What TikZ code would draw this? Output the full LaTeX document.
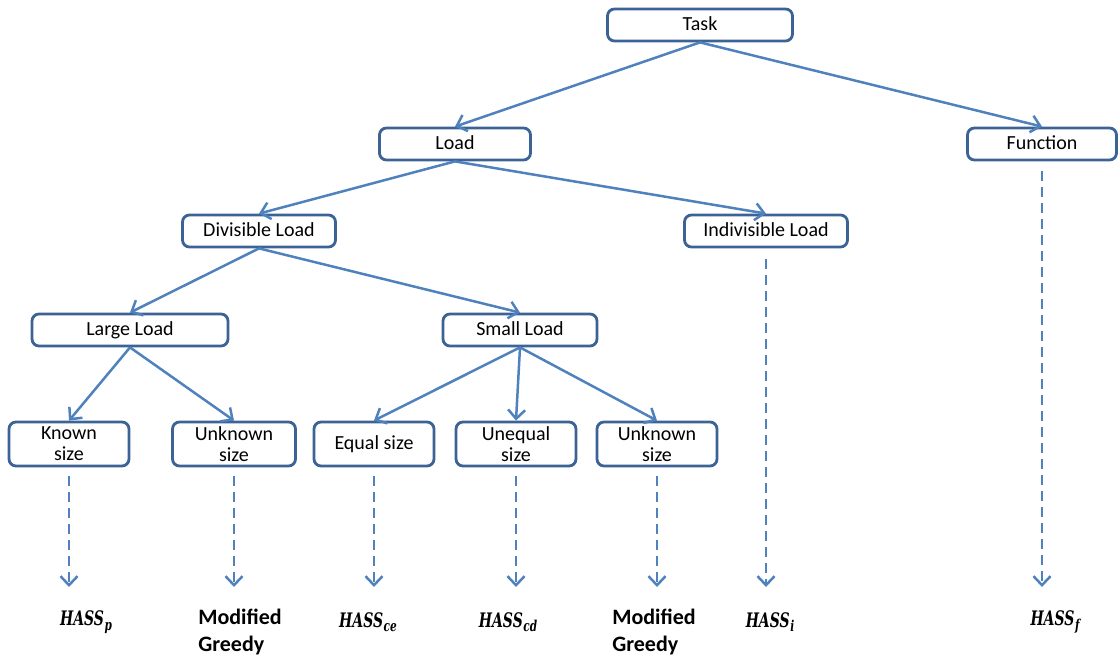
\documentclass[tikz,border=0pt]{standalone}
\usepackage{fontspec}
\setmainfont{Carlito}
\newfontfamily\hassfont[FakeStretch=0.7]{DejaVu Serif}
\usetikzlibrary{arrows.meta}
\definecolor{boxline}{HTML}{3B6396}
\definecolor{arrowblue}{HTML}{4F81BD}
\newcommand{\hass}[1]{{\hassfont\bfseries\itshape HASS\kern0.5pt\raisebox{-4.5pt}{\fontsize{15}{15}\selectfont #1}}}
\begin{document}
\begin{tikzpicture}[x=1pt,y=-1pt,
  basebox/.style={draw=boxline, line width=2.8pt, rounded corners=7pt, fill=white,
    font=\fontsize{20}{21}\selectfont, inner sep=0pt, align=center},
  oneline/.style={text height=14pt, text depth=3pt},
  box/.style={basebox, oneline, minimum height=32pt},
  tallbox/.style={basebox, minimum height=44pt, minimum width=120pt},
  link/.style={draw=arrowblue, line width=2.5pt,
    -{Straight Barb[length=9pt,width=17pt,line width=2.5pt]}},
  dlink/.style={link, dash pattern=on 10pt off 6pt},
  result/.style={font=\fontsize{20}{24}\selectfont, inner sep=0pt},
  greedy/.style={font=\fontsize{22}{27}\selectfont\bfseries, align=left, inner sep=0pt}
]
\useasboundingbox (0,0) rectangle (1118,660);

% tree of boxes
\node[box, minimum width=185pt] (task) at (700,25) {Task};
\node[box, minimum width=151pt] (load) at (455,144) {Load};
\node[box, minimum width=149pt] (func) at (1042,144) {Function};
\node[box, minimum width=153pt] (div) at (259,231) {Divisible Load};
\node[box, minimum width=163pt] (indiv) at (766,231) {Indivisible Load};
\node[box, minimum width=196pt] (large) at (130,330) {Large Load};
\node[box, minimum width=154pt] (small) at (520,330) {Small Load};
\node[tallbox] (known) at (69,444) {Known\\size};
\node[tallbox, minimum width=123pt] (unk1) at (234,444) {Unknown\\size};
\node[tallbox, oneline] (equal) at (374,444) {Equal size};
\node[tallbox] (unequal) at (516,444) {Unequal\\size};
\node[tallbox] (unk2) at (657,444) {Unknown\\size};

% results
\node[result] (rp) at (86,622) {\hass{p}};
\node[greedy] (mg1) at (240,632) {Modified\\Greedy};
\node[result] (rce) at (368,622) {\hass{ce}};
\node[result] (rcd) at (508,622) {\hass{cd}};
\node[greedy] (mg2) at (654,632) {Modified\\Greedy};
\node[result] (ri) at (770,622) {\hass{i}};
\node[result] (rf) at (1055,622) {\hass{f}};

% ends of the dashed arrows
\coordinate (e1) at (69,587);
\coordinate (e2) at (234,587);
\coordinate (e3) at (374,587);
\coordinate (e4) at (516,587);
\coordinate (e5) at (657,587);
\coordinate (e6) at (766,587);
\coordinate (e7) at (1042,587);

% solid links
\draw[link] (task.south) -- (load.north);
\draw[link] (task.south) -- (func.north);
\draw[link] (load.south) -- (div.north);
\draw[link] (load.south) -- (indiv.north);
\draw[link] (div.south) -- (large.north);
\draw[link] (div.south) -- (small.north);
\draw[link] (large.south) -- (known.north);
\draw[link] (large.south) -- (unk1.north);
\draw[link] (small.south) -- (equal.north);
\draw[link] (small.south) -- (unequal.north);
\draw[link] (small.south) -- (unk2.north);

% dashed links
\draw[dlink, shorten <=9pt] (known.south) -- (e1);
\draw[dlink, shorten <=9pt] (unk1.south) -- (e2);
\draw[dlink, shorten <=9pt] (equal.south) -- (e3);
\draw[dlink, shorten <=9pt] (unequal.south) -- (e4);
\draw[dlink, shorten <=9pt] (unk2.south) -- (e5);
\draw[dlink, shorten <=11pt] (indiv.south) -- (e6);
\draw[dlink, shorten <=10pt] (func.south) -- (e7);
\end{tikzpicture}
\end{document}
